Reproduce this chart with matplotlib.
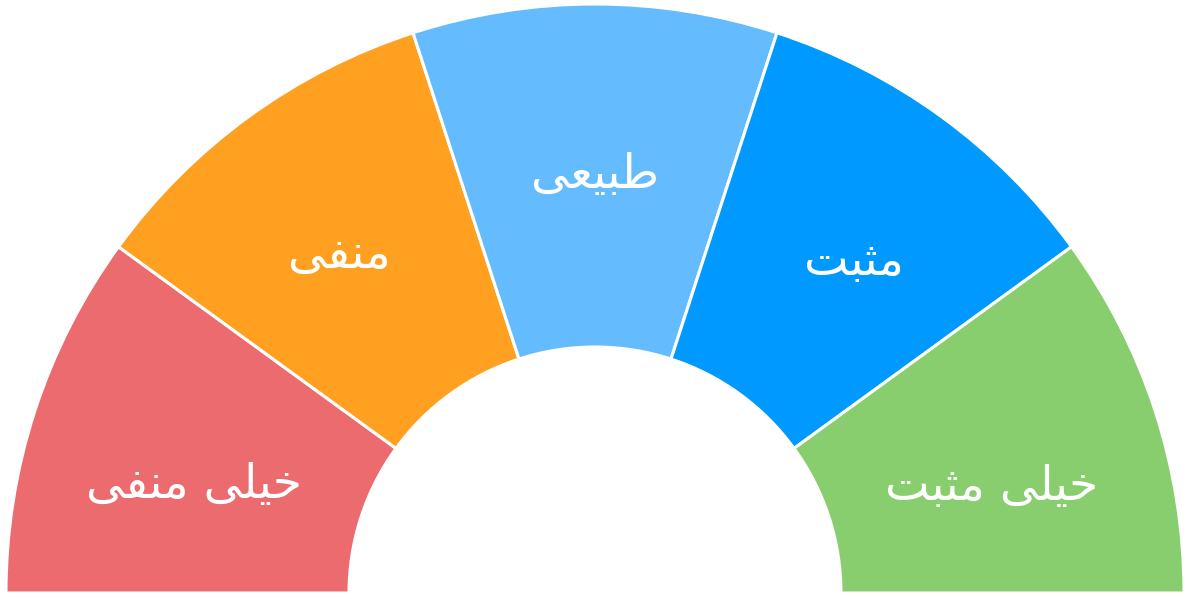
import numpy as np
import matplotlib
matplotlib.use('Agg')
import matplotlib.pyplot as plt

# categories left to right (Persian)
labels = ['خیلی منفی', 'منفی', 'طبیعی', 'مثبت', 'خیلی مثبت']
values = [1, 1, 1, 1, 1]
colors = ['#EB6B6E', '#FFA021', '#64BCFF', '#0099FF', '#88CE6F']

# presentation forms: isolated, final, initial, medial
FORMS = {
    'ب': '\uFE8F\uFE90\uFE91\uFE92',
    'ت': '\uFE95\uFE96\uFE97\uFE98',
    'ث': '\uFE99\uFE9A\uFE9B\uFE9C',
    'خ': '\uFEA5\uFEA6\uFEA7\uFEA8',
    'ط': '\uFEC1\uFEC2\uFEC3\uFEC4',
    'ع': '\uFEC9\uFECA\uFECB\uFECC',
    'ف': '\uFED1\uFED2\uFED3\uFED4',
    'ل': '\uFEDD\uFEDE\uFEDF\uFEE0',
    'م': '\uFEE1\uFEE2\uFEE3\uFEE4',
    'ن': '\uFEE5\uFEE6\uFEE7\uFEE8',
    'ی': '\uFBFC\uFBFD\uFBFE\uFBFF',
}


def shape(text):
    # all letters used here are dual-joining, so position in word is enough
    words = []
    for w in text.split(' '):
        out = ''
        n = len(w)
        for i, ch in enumerate(w):
            f = FORMS.get(ch)
            if f is None:
                out += ch
            elif n == 1:
                out += f[0]
            elif i == 0:
                out += f[2]
            elif i == n - 1:
                out += f[1]
            else:
                out += f[3]
        words.append(out)
    return ' '.join(words)[::-1]


W, H = 1190, 599
cx, cy = 595, 6
r_out = 589
r_in = 246

fig = plt.figure(figsize=(W / 100, H / 100), dpi=100)
ax = fig.add_axes([0, 0, 1, 1])

fracs = np.array(values, dtype=float) / sum(values) / 2
wedges, _ = ax.pie(fracs, colors=colors, startangle=180, counterclock=False,
                   normalize=False, center=(cx, cy), radius=r_out,
                   wedgeprops=dict(width=r_out - r_in, edgecolor='white', linewidth=2.2))
ax.set_xlim(0, W)
ax.set_ylim(0, H)
ax.set_aspect('equal')
ax.axis('off')

# small nudges so labels sit where they do in the original
nudge = [(-4, -22), (-10, 0), (0, 0), (14, -7), (0, -24)]

r_mid = (r_out + r_in) / 2
for w, lab, (dx, dy) in zip(wedges, labels, nudge):
    ang = np.deg2rad((w.theta1 + w.theta2) / 2)
    ax.text(cx + r_mid * np.cos(ang) + dx, cy + r_mid * np.sin(ang) + dy, shape(lab),
            ha='center', va='center', color='white', fontsize=34,
            family=['DejaVu Sans'])

fig.savefig('out.png', dpi=100)
